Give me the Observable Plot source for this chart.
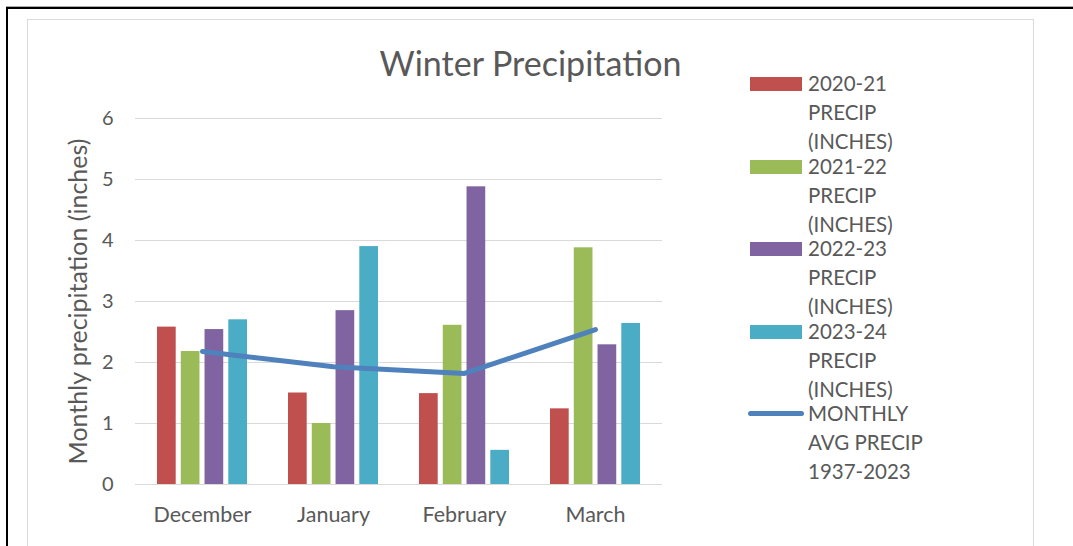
<!DOCTYPE html>
<html>
<head>
<meta charset="utf-8">
<script src="https://cdn.jsdelivr.net/npm/d3@7"></script>
<script src="https://cdn.jsdelivr.net/npm/@observablehq/plot@0.6"></script>
<style>
  html, body { margin: 0; padding: 0; background: #fff; }
  #wrap { position: relative; width: 1073px; height: 546px; overflow: hidden; font-family: Lato, "Open Sans", sans-serif; color: #595959; }
  #outer { position: absolute; left: 6px; top: 7px; width: 1100px; height: 600px; border-left: 2px solid #000; border-top: 2px solid #000; box-shadow: 0 -1px 0 #aaa; }
  #inner { position: absolute; left: 27px; top: 19px; width: 1005px; height: 600px; border: 1px solid #d9d9d9; }
  #title { position: absolute; left: 0; width: 1061px; text-align: center; top: 43px; font-size: 34px; line-height: 40px; }
  #chart { position: absolute; left: 0; top: 0; }
  #legend { position: absolute; left: 748px; top: 69px; font-size: 20.5px; line-height: 29px; }
  .item { position: relative; height: 82.5px; }
  .sw { position: absolute; left: 2px; top: 8px; width: 52px; height: 14px; }
  .swl { position: absolute; left: 0; top: 12px; width: 56px; height: 5px; border-radius: 3px; }
  .lab { position: absolute; left: 60px; top: 0; white-space: nowrap; }
</style>
</head>
<body>
<div id="wrap">
  <div id="outer"></div>
  <div id="inner"></div>
  <div id="chart"></div>
  <div id="title">Winter Precipitation</div>
  <div id="legend"></div>
</div>
<script>
const months = ["December", "January", "February", "March"];
const seriesNames = [
  "2020-21 PRECIP (INCHES)",
  "2021-22 PRECIP (INCHES)",
  "2022-23 PRECIP (INCHES)",
  "2023-24 PRECIP (INCHES)"
];
const legendLines = [
  ["2020-21", "PRECIP", "(INCHES)"],
  ["2021-22", "PRECIP", "(INCHES)"],
  ["2022-23", "PRECIP", "(INCHES)"],
  ["2023-24", "PRECIP", "(INCHES)"],
  ["MONTHLY", "AVG PRECIP", "1937-2023"]
];
const precip2021 = [2.58, 1.50, 1.49, 1.24];
const precip2122 = [2.18, 1.00, 2.61, 3.88];
const precip2223 = [2.54, 2.85, 4.88, 2.29];
const precip2324 = [2.70, 3.90, 0.56, 2.64];
const avgPrecip = [2.18, 1.93, 1.82, 2.54];
const yTicks = [0, 1, 2, 3, 4, 5, 6];
const barColors = ["#C0504D", "#9BBB59", "#8064A2", "#4BACC6"];
const lineColor = "#4F81BD";

const seriesValues = [precip2021, precip2122, precip2223, precip2324];

// layout
const W = 1073, H = 546;
const mL = 135, mR = W - 662, mT = 118, mB = H - 484;
const groupW = 90.1, barW = 18.8;
const barStep = (groupW - barW) / 3;

const barMarks = seriesValues.map((vals, i) => {
  const data = months.map((m, j) => ({month: m, value: vals[j], series: seriesNames[i]}));
  return Plot.barY(data, {
    x: "month", y: "value", fill: barColors[i],
    insetLeft: i * barStep,
    insetRight: groupW - (i * barStep + barW)
  });
});

const avgData = months.map((m, j) => ({month: m, value: avgPrecip[j]}));

const chart = Plot.plot({
  width: W, height: H,
  marginLeft: mL, marginRight: mR, marginTop: mT, marginBottom: mB,
  style: {fontFamily: "Lato, 'Open Sans', sans-serif", color: "#595959", background: "transparent"},
  x: {domain: months, paddingInner: 0.316, paddingOuter: 0.158, label: null},
  y: {domain: [0, 6], label: null},
  marks: [
    Plot.gridY(yTicks, {stroke: "#d9d9d9", strokeOpacity: 1, strokeWidth: 1.2}),
    ...barMarks,
    Plot.line(avgData, {x: "month", y: "value", stroke: lineColor, strokeWidth: 5, strokeLinecap: "round", strokeLinejoin: "round"}),
    Plot.axisY(yTicks, {tickSize: 0, tickPadding: 22, fontSize: 20, label: null, fill: "#595959", tickFormat: d3.format("d")}),
    Plot.axisX({tickSize: 0, tickPadding: 22, fontSize: 21.5, label: null, fill: "#595959"}),
    Plot.text(["Monthly precipitation (inches)"], {frameAnchor: "left", textAnchor: "middle", text: d => d, rotate: -90, dx: -57, fontSize: 25, fill: "#595959"})
  ]
});
document.getElementById("chart").appendChild(chart);

// legend
const legend = document.getElementById("legend");
legendLines.forEach((lines, i) => {
  const item = document.createElement("div");
  item.className = "item";
  const sw = document.createElement("div");
  if (i < 4) { sw.className = "sw"; sw.style.background = barColors[i]; }
  else { sw.className = "swl"; sw.style.background = lineColor; }
  item.appendChild(sw);
  const lab = document.createElement("div");
  lab.className = "lab";
  lab.innerHTML = lines.join("<br>");
  item.appendChild(lab);
  legend.appendChild(item);
});
</script>
</body>
</html>
